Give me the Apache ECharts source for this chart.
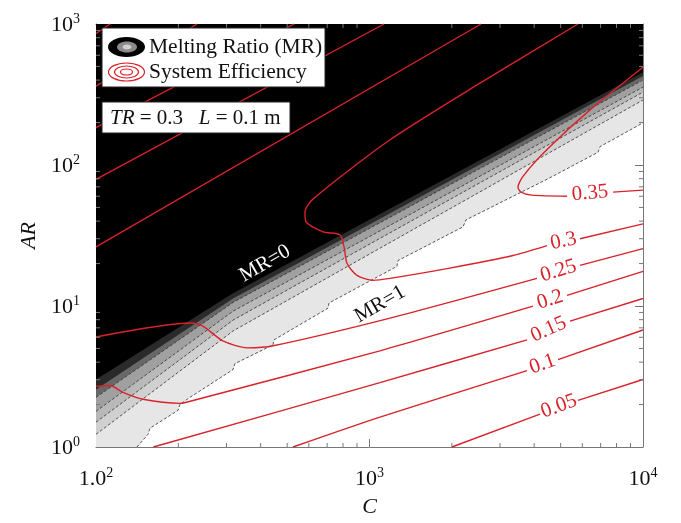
<!DOCTYPE html>
<html>
<head>
<meta charset="utf-8">
<title>Melting ratio and system efficiency</title>
<script src="https://cdn.jsdelivr.net/npm/echarts@6/dist/echarts.min.js"></script>
<style>
  body { margin: 0; background: #fff; }
  #chart { width: 681px; height: 523px; }
</style>
</head>
<body>
<div id="chart"></div>
<script>
	// axis ranges (C on x, AR on y, both log)
	var cMin = 100, cMax = 10000, arMin = 1, arMax = 1000;

	// minor tick values
	var cMinor = [200,300,400,500,600,700,800,900,2000,3000,4000,5000,6000,7000,8000,9000];
	var arMinor = [2,3,4,5,6,7,8,9,20,30,40,50,60,70,80,90,200,300,400,500,600,700,800,900];

	// melting ratio contours, [C, AR], MR=1 edge first then towards MR=0
	var mr1Edge = [[141.2,1],[155,1.23],[157.6,1.36],[199.5,1.82],[202.9,2.01],[220.7,2.25],[316.9,3.54],[322,3.90],[443.8,5.30],[447.5,5.75],[705,9.65],[711,10.5],[1260,19.1],[1271,21.0],[2197,36.4],[2253,40.8],[4457,79.2],[6847,123],[6963,135],[10000,199]];
	var mrC5 = [[100,1.23],[317,6.65],[10000,289]];
	var mrC4 = [[100,1.50],[317,7.94],[10000,329]];
	var mrC3 = [[100,1.79],[317,9.19],[10000,357]];
	var mrC2 = [[100,2.25],[317,10.6],[10000,400]];
	var mrC1 = [[100,2.56],[317,11.3],[10000,427]];
	var mrC0 = [[100,3.01],[317,12.3],[10000,455]];

	// system efficiency contours, pieces of [C, AR]; label sits between the last two pieces
	var eff005 = [
		[[100,856],[112.5,1000]],
		[[2000,1],[4201,1.71]],
		[[5785,2.14],[10000,3.01]]
	];
	var eff010 = [
		[[100,363],[234,1000]],
		[[525,1],[1092,1.63],[3766,3.48]],
		[[4890,4.16],[10000,6.76]]
	];
	var eff015 = [
		[[100,184],[530,1000]],
		[[162,1],[1092,2.86],[3766,5.75]],
		[[5410,7.82],[10000,11.3]]
	];
	var eff020 = [
		[[100,79.2],[1130,1000]],
		[[100,2.69],[112.5,2.73],[125.5,2.44],[148.5,2.18],[203,2.04],[221,2.11],[1092,4.81],[3961,9.97]],
		[[5275,11.9],[10000,17.6]]
	];
	var eff025 = [
		[[100,26.3],[2557,1000]],
		[[100,6.03],[221,7.57],[246,7.21],[291,5.65],[357,5.05],[444,5.22],[1189,8.21],[4096,15.7]],
		[[5884,19.4],[10000,25.5]]
	];
	var eff030 = [
		[[5785,1000],[2535,381],[1189,151],[621,57.3],[581,46.4],[586,39.5],[676,33.6],[780,32.0],[807,26.3],[828,20.0],[900,16.5],[1030,15.2],[1189,15.7],[1920,18.4],[3348,22.8],[4457,26.8]],
		[[5884,30.0],[10000,38.2]]
	];
	var eff035 = [
		[[10000,494],[6401,246],[4457,128.7],[3641,83.1],[3491,69.6],[3579,64.2],[3928,61.1],[5275,60.1]],
		[[7770,64.2],[10000,66.3]]
	];
	var effNames = ['0.05','0.1','0.15','0.2','0.25','0.3','0.35'];

	// region notes [text, C, AR]
	var notes = [['MR=0', 415, 20.0], ['MR=1', 1092, 10.3]];

	var serif = 'Liberation Serif';
	var red = '#d8232a';
	var effLevels = [eff005, eff010, eff015, eff020, eff025, eff030, eff035];
	var mrLayers = [mr1Edge, mrC5, mrC4, mrC3, mrC2, mrC1, mrC0];
	var mrFills = ['#e6e6e6','#d0d0d0','#b9b9b9','#a0a0a0','#686868','#2a2a2a','#000000'];
	var noteColors = ['#ffffff', '#111111'];

	// 10^n labels
	function expLabel(v, isX) {
		var n = Math.round(Math.log(v) / Math.LN10);
		var base = (isX && n === 2) ? '1.0' : '10';
		return '{b|' + base + '}{s|' + n + '}';
	}
	var tickRich = {
		b: { fontFamily: serif, fontSize: 22, color: '#111', verticalAlign: 'bottom' },
		s: { fontFamily: serif, fontSize: 14, color: '#111', verticalAlign: 'bottom', padding: [0, 0, 10, 0] }
	};

	function logAxis(min, max, pos, withLabel) {
		return {
			type: 'log', logBase: 10, min: min, max: max, position: pos,
			axisLine: { lineStyle: { color: '#777', width: 1 } },
			axisTick: { inside: true, length: 8, lineStyle: { color: '#777' } },
			axisLabel: withLabel ? {
				margin: pos === 'bottom' ? 19 : 16, showMinLabel: true, showMaxLabel: true, rich: tickRich,
				formatter: function (v) { return expLabel(v, pos === 'bottom'); }
			} : { show: false },
			splitLine: { show: false }
		};
	}

	var series = [];

	// shaded MR field, painted from MR=1 edge up to the black MR=0 zone
	series.push({
		type: 'custom', coordinateSystem: 'cartesian2d', silent: true, z: 1,
		data: mrLayers.map(function () { return [cMin, arMin]; }),
		renderItem: function (params, api) {
			var line = mrLayers[params.dataIndex];
			var pts = line.slice();
			pts.push([cMax, arMax], [cMin, arMax]);
			if (line[0][0] > cMin) pts.push([cMin, arMin]);
			return {
				type: 'polygon',
				shape: { points: pts.map(function (p) { return api.coord(p); }) },
				style: { fill: mrFills[params.dataIndex], stroke: null }
			};
		}
	});

	// dashed MR contour lines
	[mr1Edge, mrC5, mrC4, mrC3, mrC2].forEach(function (line) {
		series.push({
			type: 'line', data: line, symbol: 'none', silent: true, z: 2,
			lineStyle: { color: '#2e2e2e', width: 0.8, type: [3, 2] }
		});
	});

	// efficiency contours
	effLevels.forEach(function (pieces, i) {
		pieces.forEach(function (piece) {
			series.push({
				name: effNames[i], type: 'line', data: piece, symbol: 'none', silent: true, z: 3,
				smooth: 0.25,
				lineStyle: { color: red, width: 1.4 }
			});
		});
	});

	// contour labels placed in the gap of each level
	series.push({
		type: 'custom', coordinateSystem: 'cartesian2d', silent: true, z: 4,
		data: effLevels.map(function () { return [cMin, arMin]; }),
		renderItem: function (params, api) {
			var pieces = effLevels[params.dataIndex];
			var before = pieces[pieces.length - 2];
			var a = api.coord(before[before.length - 1]);
			var b = api.coord(pieces[pieces.length - 1][0]);
			return {
				type: 'text',
				x: (a[0] + b[0]) / 2, y: (a[1] + b[1]) / 2 - 1,
				rotation: -Math.atan2(b[1] - a[1], b[0] - a[0]),
				style: {
					text: effNames[params.dataIndex], fill: red,
					fontFamily: serif, fontSize: 21,
					align: 'center', verticalAlign: 'middle'
				}
			};
		}
	});

	// MR=0 / MR=1 notes
	series.push({
		type: 'custom', coordinateSystem: 'cartesian2d', silent: true, z: 4,
		data: notes.map(function (n) { return [n[1], n[2]]; }),
		renderItem: function (params, api) {
			var p = api.coord([api.value(0), api.value(1)]);
			return {
				type: 'text', x: p[0], y: p[1], rotation: Math.PI / 6,
				style: {
					text: notes[params.dataIndex][0], fill: noteColors[params.dataIndex],
					fontFamily: serif, fontSize: 21, align: 'center', verticalAlign: 'middle'
				}
			};
		}
	});

	// minor ticks on all four sides
	series.push({
		type: 'custom', coordinateSystem: 'cartesian2d', silent: true, z: 6,
		data: cMinor.map(function (v) { return [v, arMin]; }),
		renderItem: function (params, api) {
			var v = api.value(0);
			var p = api.coord([v, arMin]), q = api.coord([v, arMax]);
			var st = { stroke: '#777', lineWidth: 1 };
			return { type: 'group', children: [
				{ type: 'line', shape: { x1: p[0], y1: p[1], x2: p[0], y2: p[1] - 4 }, style: st },
				{ type: 'line', shape: { x1: q[0], y1: q[1], x2: q[0], y2: q[1] + 4 }, style: st }
			] };
		}
	});
	series.push({
		type: 'custom', coordinateSystem: 'cartesian2d', silent: true, z: 6,
		data: arMinor.map(function (v) { return [cMin, v]; }),
		renderItem: function (params, api) {
			var v = api.value(1);
			var p = api.coord([cMin, v]), q = api.coord([cMax, v]);
			var st = { stroke: '#777', lineWidth: 1 };
			return { type: 'group', children: [
				{ type: 'line', shape: { x1: p[0], y1: p[1], x2: p[0] + 4, y2: p[1] }, style: st },
				{ type: 'line', shape: { x1: q[0], y1: q[1], x2: q[0] - 4, y2: q[1] }, style: st }
			] };
		}
	});

	var xBottom = logAxis(cMin, cMax, 'bottom', true);
	xBottom.name = 'C';
	xBottom.nameLocation = 'middle';
	xBottom.nameGap = 49;
	xBottom.nameTextStyle = { fontFamily: serif, fontStyle: 'italic', fontSize: 22, color: '#111' };
	var yLeft = logAxis(arMin, arMax, 'left', true);
	yLeft.name = 'AR';
	yLeft.nameLocation = 'middle';
	yLeft.nameGap = 56;
	yLeft.nameRotate = 90;
	yLeft.nameTextStyle = { fontFamily: serif, fontStyle: 'italic', fontSize: 22, color: '#111' };

	var option = {
		animation: false,
		backgroundColor: '#fff',
		grid: { left: 96, right: 38, top: 24, bottom: 73 },
		xAxis: [xBottom, logAxis(cMin, cMax, 'top', false)],
		yAxis: [yLeft, logAxis(arMin, arMax, 'right', false)],
		series: series,
		graphic: [
			{ type: 'rect', z: 100, shape: { x: 102, y: 28, width: 223, height: 59 }, style: { fill: '#fff', stroke: '#222', lineWidth: 1 } },
			{ type: 'ellipse', z: 101, shape: { cx: 126.5, cy: 47, rx: 18.5, ry: 10 }, style: { fill: '#000' } },
			{ type: 'ellipse', z: 102, shape: { cx: 127, cy: 47, rx: 10, ry: 5.5 }, style: { fill: '#8a8a8a' } },
			{ type: 'ellipse', z: 103, shape: { cx: 127, cy: 47, rx: 4.5, ry: 2.5 }, style: { fill: '#d0d0d0' } },
			{ type: 'text', z: 101, x: 149, y: 47, style: { text: 'Melting Ratio (MR)', fontFamily: serif, fontSize: 21.5, fill: '#111', verticalAlign: 'middle' } },
			{ type: 'ellipse', z: 101, shape: { cx: 126.5, cy: 72, rx: 18, ry: 9 }, style: { fill: 'none', stroke: red, lineWidth: 1.2 } },
			{ type: 'ellipse', z: 101, shape: { cx: 126.5, cy: 72, rx: 12, ry: 6 }, style: { fill: 'none', stroke: red, lineWidth: 1.2 } },
			{ type: 'ellipse', z: 101, shape: { cx: 126.5, cy: 72, rx: 6, ry: 3 }, style: { fill: 'none', stroke: red, lineWidth: 1.2 } },
			{ type: 'text', z: 101, x: 149, y: 72, style: { text: 'System Efficiency', fontFamily: serif, fontSize: 21.5, fill: '#111', verticalAlign: 'middle' } },
			{ type: 'rect', z: 100, shape: { x: 102, y: 102, width: 188, height: 31 }, style: { fill: '#fff', stroke: '#222', lineWidth: 1 } },
			{ type: 'text', z: 101, x: 110, y: 118, style: {
				text: '{i|TR} = 0.3   {i|L} = 0.1 m', fontFamily: serif, fontSize: 21, fill: '#111', verticalAlign: 'middle',
				rich: { i: { fontFamily: serif, fontSize: 21, fontStyle: 'italic', fill: '#111' } }
			} }
		]
	};

	var chart = echarts.init(document.getElementById('chart'));
	chart.setOption(option);
</script>
</body>
</html>
